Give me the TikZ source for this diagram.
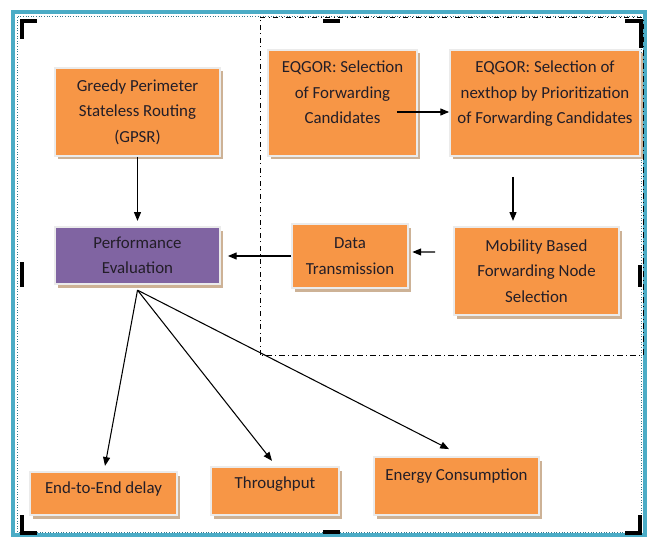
\documentclass[tikz,border=0pt]{standalone}
\usepackage{fontspec}
\setmainfont{Carlito}
\usepackage{xcolor}
\definecolor{boxorange}{RGB}{247,150,70}
\definecolor{boxpurple}{RGB}{128,100,162}
\definecolor{shadowtan}{RGB}{205,178,150}
\definecolor{frameteal}{RGB}{75,172,198}
\definecolor{textdark}{RGB}{35,30,40}
\usetikzlibrary{arrows.meta,positioning,shadows}

\begin{document}
\begin{tikzpicture}[
  blk/.style={draw=black!8,line width=1pt,fill=boxorange,align=center,text=textdark,
    font=\fontsize{9.6}{14.5}\selectfont,inner sep=2pt,
    drop shadow={shadow xshift=0.05cm,shadow yshift=-0.07cm,fill=shadowtan,opacity=1}},
  edge/.style={-{Triangle[length=5pt,width=4pt]},black,line width=0.6pt},
  corner/.style={line width=2.2pt,black}]
  \useasboundingbox (0,0) rectangle (12.96,10.76);
  % Frame
  \draw[frameteal,line width=2.5pt] (0.26,0.06) rectangle (12.9,10.52);
  \draw[frameteal!70!black,densely dotted,line width=0.5pt] (0.34,0.12) rectangle (12.82,10.44);
  \draw[dash dot,line width=0.5pt] (5.2,3.66) rectangle (12.86,10.42);
  % Corner marks
  \draw[corner] (0.44,9.98) -- (0.44,10.34) -- (0.74,10.34);
  \draw[corner] (12.5,10.34) -- (12.82,10.34) -- (12.82,9.8);
  \draw[corner] (0.44,0.46) -- (0.44,0.1) -- (0.74,0.1);
  \draw[corner] (12.5,0.1) -- (12.8,0.1) -- (12.8,0.46);
  \draw[corner] (0.44,5.52) -- (0.44,5.02);
  \draw[corner] (12.8,5.46) -- (12.8,5.02);
  \draw[corner] (6.46,10.34) -- (6.8,10.34);
  \draw[corner] (6.46,0.12) -- (6.8,0.12);
  % Routing
  \node[blk,minimum width=3.3cm,minimum height=1.76cm] (gpsr) at (2.75,8.52) {Greedy Perimeter\\Stateless Routing\\(GPSR)};
  \node[blk,minimum width=2.98cm,minimum height=2.12cm,text depth=12pt] (sel) at (6.85,8.7) {EQGOR: Selection\\of Forwarding\\Candidates};
  \node[blk,minimum width=3.8cm,minimum height=2.12cm,text depth=12pt] (nxt) at (10.9,8.7) {EQGOR: Selection of\\nexthop by Prioritization\\of Forwarding Candidates};
  \node[blk,minimum width=3.3cm,minimum height=1.76cm] (mob) at (10.73,5.34) {Mobility Based\\Forwarding Node\\Selection};
  \node[blk,minimum width=2.32cm,minimum height=1.28cm] (data) at (7,5.64) {Data\\Transmission};
  \node[blk,fill=boxpurple,minimum width=3.3cm,minimum height=1.14cm] (perf) at (2.75,5.65) {Performance\\Evaluation};
  % Metrics
  \node[blk,minimum width=2.94cm,minimum height=0.86cm,text depth=6.5pt] (e2e) at (2.07,0.89) {End-to-End delay};
  \node[blk,minimum width=2.56cm,minimum height=0.96cm,text depth=10pt] (thr) at (5.5,0.94) {Throughput};
  \node[blk,minimum width=3.3cm,minimum height=1.16cm,text depth=13.4pt] (eng) at (9.13,1.04) {Energy Consumption};
  % Arrows
  \draw[edge] (gpsr.south) -- ([yshift=3pt]perf.north);
  \draw[edge] ([xshift=-0.42cm,yshift=-0.18cm]sel.east) -- ([yshift=-0.18cm]nxt.west);
  \draw[edge,shorten <=0.4cm] ([xshift=-0.64cm]nxt.south) -- ([xshift=-0.47cm,yshift=3pt]mob.north);
  \draw[edge,shorten <=0.36cm] ([yshift=0.38cm]mob.west) -- ([yshift=0.08cm,xshift=2pt]data.east);
  \draw[edge] (data.west) -- ([xshift=4pt]data.west -| perf.east);
  \draw[edge] ([yshift=-3pt]perf.south) -- ([xshift=0.03cm,yshift=3pt]e2e.north);
  \draw[edge] ([yshift=-3pt]perf.south) -- ([xshift=-0.06cm,yshift=3pt]thr.north);
  \draw[edge] ([yshift=-3pt]perf.south) -- ([xshift=-0.15cm,yshift=4pt]eng.north);
\end{tikzpicture}
\end{document}
